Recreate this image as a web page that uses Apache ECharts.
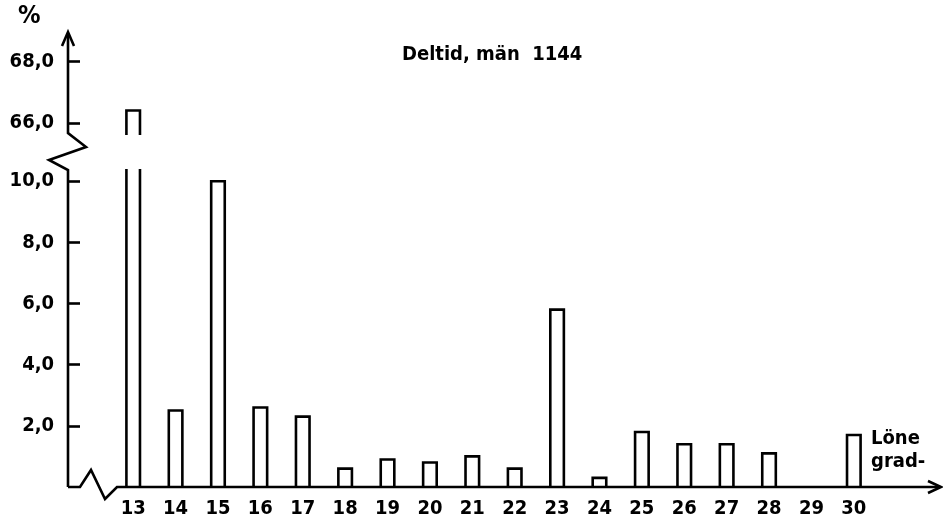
<!DOCTYPE html>
<html>
<head>
<meta charset="utf-8">
<script src="https://cdn.jsdelivr.net/npm/echarts@6/dist/echarts.min.js"></script>
<style>html,body{margin:0;padding:0;background:#fff}#c{width:943px;height:520px}</style>
</head>
<body>
<div id="c"></div>
<script>
// ---- data ----
const categories = ['13','14','15','16','17','18','19','20','21','22','23','24','25','26','27','28','29','30'];
const values = [66.4, 2.5, 10.0, 2.6, 2.3, 0.6, 0.9, 0.8, 1.0, 0.6, 5.8, 0.3, 1.8, 1.4, 1.4, 1.1, 0, 1.7];
const lowerTicks = [2, 4, 6, 8, 10];
const upperTicks = [66, 68];
const breakLow = 10.4;   // top of lower axis segment
const breakHigh = 65.6;  // bottom of upper axis segment
const upperMax = 69;
const titleText = 'Deltid, män  1144';
const yUnit = '%';
const xUnit = ['Löne', 'grad-'];

// ---- layout ----
const AX = 68;          // y axis x position
const GL = 112, GR = 68; // grid left/right
const Y0 = 487;         // zero line
const LOW_TOP = 169;
const UP_TOP = 31, UP_BOT = 135;
const FONT = '"DejaVu Sans Condensed", "DejaVu Sans", sans-serif';

const fmt = v => v.toFixed(1).replace('.', ',');

function renderBar(mode) {
  return function (params, api) {
    const i = api.value(0), v = api.value(1);
    if (!(v > 0)) return null;
    const w = api.size([1, 0])[0] * 0.32;
    const c = api.coord([i, 0])[0];
    const x1 = c - w / 2, x2 = c + w / 2;
    const style = { stroke: '#000', lineWidth: 2.6, fill: null };
    if (mode === 'upper') {
      const base = api.coord([i, breakHigh])[1];
      const top = api.coord([i, v])[1];
      return { type: 'polyline', shape: { points: [[x1, base], [x1, top], [x2, top], [x2, base]] }, style };
    }
    const base = api.coord([i, 0])[1];
    if (v > breakLow) {
      const top = api.coord([i, breakLow])[1];
      return { type: 'group', children: [
        { type: 'line', shape: { x1: x1, y1: base, x2: x1, y2: top }, style },
        { type: 'line', shape: { x1: x2, y1: base, x2: x2, y2: top }, style }
      ]};
    }
    const top = api.coord([i, v])[1];
    return { type: 'polyline', shape: { points: [[x1, base], [x1, top], [x2, top], [x2, base]] }, style };
  };
}

const upperData = values.map((v, i) => [i, v > breakHigh ? v : '-']);
const lowerData = values.map((v, i) => [i, v]);

const lineStyle = { stroke: '#000', lineWidth: 2.6, fill: null };
const yAxisCommon = {
  type: 'value',
  offset: GL - AX,
  axisLine: { show: false },
  splitLine: { show: false },
  axisTick: { show: true, inside: true, length: 12, lineStyle: { color: '#000', width: 2.6 } },
  axisLabel: { color: '#000', fontSize: 20, fontWeight: 'bold', fontFamily: FONT, margin: 14, formatter: fmt }
};

const chart = echarts.init(document.getElementById('c'), null, { renderer: 'canvas' });
chart.setOption({
  backgroundColor: '#fff',
  animation: false,
  title: { text: titleText, left: 397, top: 40, textStyle: { color: '#000', fontSize: 20, fontWeight: 'bold', fontFamily: FONT } },
  grid: [
    { left: GL, right: GR, top: UP_TOP, height: UP_BOT - UP_TOP },
    { left: GL, right: GR, top: LOW_TOP, height: Y0 - LOW_TOP }
  ],
  xAxis: [
    { type: 'category', gridIndex: 0, data: categories, show: false },
    { type: 'category', gridIndex: 1, data: categories,
      axisLine: { show: false }, axisTick: { show: false },
      axisLabel: { color: '#000', fontSize: 20, fontWeight: 'bold', fontFamily: FONT, margin: 12, interval: 0 } }
  ],
  yAxis: [
    Object.assign({}, yAxisCommon, { gridIndex: 0, min: breakHigh, max: upperMax,
      axisTick: Object.assign({}, yAxisCommon.axisTick, { customValues: upperTicks }),
      axisLabel: Object.assign({}, yAxisCommon.axisLabel, { customValues: upperTicks }) }),
    Object.assign({}, yAxisCommon, { gridIndex: 1, min: 0, max: breakLow,
      axisTick: Object.assign({}, yAxisCommon.axisTick, { customValues: lowerTicks }),
      axisLabel: Object.assign({}, yAxisCommon.axisLabel, { customValues: lowerTicks }) })
  ],
  series: [
    { type: 'custom', xAxisIndex: 0, yAxisIndex: 0, data: upperData, renderItem: renderBar('upper'), clip: false },
    { type: 'custom', xAxisIndex: 1, yAxisIndex: 1, data: lowerData, renderItem: renderBar('lower'), clip: false }
  ],
  graphic: [
    // y axis with break and arrow
    { type: 'polyline', shape: { points: [[AX, Y0], [AX, LOW_TOP + 1], [AX - 19, 160], [AX + 18, 147], [AX, UP_BOT - 2], [AX, 34]] }, style: lineStyle },
    { type: 'polyline', shape: { points: [[AX - 6, 46], [AX, 32], [AX + 6, 46]] }, style: lineStyle },
    // x axis with break and arrow
    { type: 'polyline', shape: { points: [[AX, Y0], [80, Y0], [91, 470], [105, 499], [117, Y0], [939, Y0]] }, style: lineStyle },
    { type: 'polyline', shape: { points: [[928, Y0 - 6], [941, Y0], [928, Y0 + 6]] }, style: lineStyle },
    // unit labels
    { type: 'text', left: 18, top: 4, style: { text: yUnit, fill: '#000', font: 'bold 25px ' + FONT } },
    { type: 'text', left: 871, top: 429, style: { text: xUnit[0], fill: '#000', font: 'bold 20px ' + FONT } },
    { type: 'text', left: 871, top: 452, style: { text: xUnit[1], fill: '#000', font: 'bold 20px ' + FONT } }
  ]
});
</script>
</body>
</html>
